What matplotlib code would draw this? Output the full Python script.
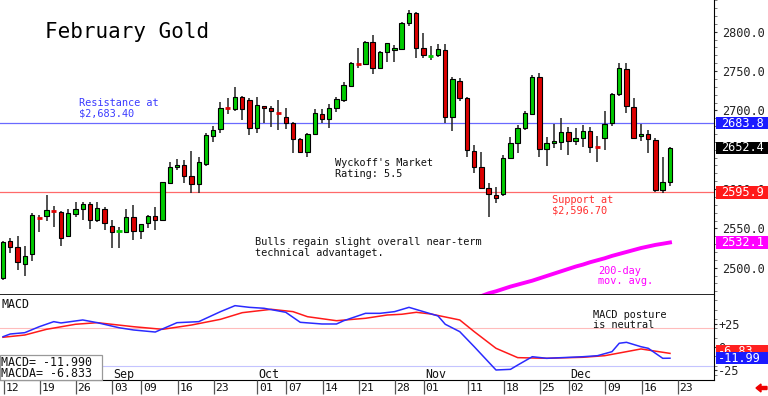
import numpy as np
import pandas as pd
import matplotlib
matplotlib.use("Agg")
import matplotlib.pyplot as plt
from matplotlib.patches import Rectangle, FancyArrow
from matplotlib.transforms import blended_transform_factory
from matplotlib.ticker import FormatStrFormatter, MultipleLocator

plt.rcParams['font.family'] = ['DejaVu Sans Mono']

W, H = 768, 396

# trading days, Aug 12 - Dec 20 2024
holidays = ["2024-09-02", "2024-11-28"]
days = pd.bdate_range("2024-08-12", "2024-12-20")
days = days[~days.isin(pd.to_datetime(holidays))]

opens = [2486.5, 2534, 2526, 2505, 2517.4, 2564, 2566, 2573, 2571, 2540.7,
         2568.6, 2574.2, 2581.3, 2560.6, 2574.6, 2553, 2546, 2545, 2564, 2546.6,
         2556.4, 2565.3, 2560.6, 2608, 2628.4, 2630.5, 2617, 2606, 2631.4, 2667.4,
         2675.9, 2704, 2702.1, 2716.6, 2713.2, 2677.2, 2705.5, 2702.6, 2697.5, 2692,
         2684.3, 2663.2, 2647.4, 2669.6, 2695, 2688.6, 2702.6, 2713.2, 2731, 2760.5,
         2758.9, 2787.3, 2753.5, 2773.8, 2776.4, 2777.6, 2811.4, 2824.2, 2778.9, 2768.5,
         2770.4, 2776.7, 2691.9, 2737.3, 2716.1, 2648.7, 2627.6, 2600.9, 2592.4, 2593.3,
         2639, 2658.9, 2677.2, 2695.4, 2742.8, 2650.5, 2658.1, 2660.2, 2672.9, 2661.4,
         2665.2, 2673.8, 2654.5, 2664.5, 2683.5, 2720.8, 2752.6, 2703.9, 2667.4, 2669.6,
         2662.3, 2598.8, 2609.5]
highs = [2534, 2537.4, 2540, 2527.6, 2569, 2567, 2592, 2578.8, 2572, 2575,
         2583.6, 2583.5, 2583.5, 2583.5, 2577.5, 2560.6, 2552, 2574.2, 2579.7, 2556,
         2567, 2577.5, 2609, 2634.7, 2637.8, 2636.9, 2648.3, 2640.3, 2671.6, 2680.5,
         2710.2, 2715.3, 2729.3, 2718.3, 2715.3, 2716.6, 2706, 2705.5, 2713.2, 2702.6,
         2685.6, 2664.5, 2670.8, 2701.3, 2701.3, 2708, 2717.4, 2736.4, 2761.9, 2778.9,
         2788.6, 2795.8, 2775.8, 2786, 2783.1, 2812.2, 2827.6, 2825, 2798, 2781.8,
         2784.4, 2784.4, 2742, 2740.8, 2717.4, 2656, 2647.4, 2608, 2603, 2643.7,
         2666.5, 2681.4, 2699.6, 2745, 2747.9, 2666.5, 2682.7, 2689.9, 2678.5, 2677.2,
         2681.4, 2679.2, 2667.4, 2699.6, 2722.5, 2759.8, 2760.6, 2715.3, 2682.7, 2675,
         2664.5, 2640.3, 2653.8]
lows = [2485, 2519, 2497, 2490, 2509, 2545.7, 2559, 2551.3, 2528, 2540,
        2564, 2560.6, 2548.8, 2558.5, 2547.9, 2524.6, 2524.6, 2543.7, 2535, 2536,
        2550, 2547.9, 2560, 2607.3, 2624, 2608, 2594.6, 2595.3, 2629.7, 2660.2,
        2670.8, 2695, 2699.6, 2687.7, 2668.7, 2670.8, 2683.5, 2679.2, 2675, 2676,
        2645.4, 2646.2, 2641, 2668.7, 2683.5, 2677.2, 2698.3, 2711, 2730.1, 2753.5,
        2757.7, 2746.2, 2752.6, 2761.9, 2761.9, 2777, 2807.2, 2766.2, 2766.2, 2764,
        2768.2, 2683.5, 2674, 2711.9, 2641, 2620, 2600, 2564, 2581.8, 2591,
        2637.8, 2645.4, 2675, 2694, 2640.3, 2629.3, 2651.8, 2649.6, 2643.3, 2656,
        2653.8, 2645.4, 2634.7, 2649.6, 2680, 2718.3, 2696.2, 2664.5, 2661.4, 2645.4,
        2596.6, 2595.3, 2603.8]
closes = [2533, 2526, 2507, 2515, 2567, 2563, 2573.3, 2572, 2537.3, 2569,
          2575, 2581, 2560.6, 2575.5, 2557.2, 2545.7, 2547, 2564.8, 2547, 2555.5,
          2566, 2560.6, 2608.5, 2628, 2631, 2616.5, 2606, 2634, 2668.7, 2675,
          2703.4, 2703, 2716.6, 2701.7, 2678, 2706.4, 2702.6, 2699.6, 2696.5, 2684.3,
          2663.2, 2647.4, 2669.6, 2697, 2688.6, 2702.6, 2714, 2731.9, 2760.6, 2759.5,
          2787.3, 2753.5, 2773.8, 2785.3, 2779.3, 2811.4, 2823.4, 2778.9, 2770.4, 2769.5,
          2778, 2691.2, 2739.9, 2716.1, 2649.6, 2627.6, 2600.9, 2593.3, 2589, 2639,
          2658.1, 2677.2, 2696.3, 2742.8, 2650.5, 2658.1, 2661, 2672.9, 2661.4, 2665.2,
          2673.8, 2653.8, 2653.5, 2682.7, 2720.8, 2753.5, 2705.5, 2665.2, 2669.6, 2663.2,
          2598.8, 2608.5, 2652.4]

# 200-day moving average, visible from bar 66 on
ma_start = 66
ma200 = [2464, 2467.5, 2470, 2473, 2476, 2478.5, 2481, 2483.5, 2486.5, 2489.5,
         2492.5, 2495.5, 2498.5, 2501.5, 2504, 2507, 2509.5, 2512, 2515, 2517.5,
         2520, 2522.5, 2525, 2527, 2529, 2530.5, 2532.1]

# MACD (blue) and its average (red), read at these bars
macd_bar = [0, 1, 3, 5, 7, 8, 11, 13, 16, 18, 21, 24, 27, 30, 32, 34, 36, 39, 41, 44,
            46, 47, 50, 52, 54, 56, 58, 60, 61, 63, 65, 68, 70, 71, 73, 75, 80, 82, 84, 85,
            86, 88, 89, 91, 92]
macd_val = [11.0, 13.9, 15.3, 21.7, 27.1, 25.7, 28.9, 26, 20.6, 18.2, 16, 26, 27.1, 37.8,
            44.2, 42.4, 41.4, 37.1, 26.4, 24.6, 24.6, 28.1, 36, 36, 37.8, 42.4, 37.8, 33.2,
            24.3, 16.4, 0.3, -24.6, -23.9, -19.3, -10.4, -12.1, -10.4, -9.3, -5, 4,
            5, 0.3, -1.4, -12.1, -11.99]
sig_bar = [0, 3, 6, 10, 13, 18, 22, 26, 30, 33, 37, 40, 42, 46, 50, 53, 55, 57, 59, 63,
           65, 68, 71, 75, 80, 83, 86, 88, 92]
sig_val = [10.4, 12.8, 18.9, 24.3, 26, 21.7, 18.9, 23.5, 29.6, 36.7, 40.3, 37.8, 32.4,
           28.1, 30.7, 34.2, 35, 37.1, 35.3, 28.9, 16.4, -1.4, -11.4, -12.1, -11, -9.3,
           -5, -2.1, -6.833]

tick_days = ["2024-08-12", "2024-08-19", "2024-08-26", "2024-09-03", "2024-09-09",
             "2024-09-16", "2024-09-23", "2024-10-01", "2024-10-07", "2024-10-14",
             "2024-10-21", "2024-10-28", "2024-11-01", "2024-11-11", "2024-11-18",
             "2024-11-25", "2024-12-02", "2024-12-09", "2024-12-16", "2024-12-23"]
tick_labels = ["12", "19", "26", "03", "09", "16", "23", "01", "07", "14",
               "21", "28", "01", "11", "18", "25", "02", "09", "16", "23"]
month_days = ["2024-09-03", "2024-10-01", "2024-11-01", "2024-12-02"]
month_labels = ["Sep", "Oct", "Nov", "Dec"]

resistance = 2683.8
support = 2595.9


def fx(px):
    return px / W


def fy(py):
    return 1 - py / H


fig = plt.figure(figsize=(W / 100, H / 100), dpi=100)
ax = fig.add_axes([0, fy(295), fx(714), fy(0) - fy(295)])
axm = fig.add_axes([0, fy(380), fx(714), fy(295) - fy(380)])
axd = fig.add_axes([0, 0, fx(714), fy(380)])

xlim = (-0.414, 98.07)
for a in (ax, axm, axd):
    a.set_xlim(*xlim)
    a.set_xticks([])

# ---------------------------
# price panel
# ---------------------------
ax.set_ylim(2465.3, 2840.3)
o, h, l, c = map(np.array, (opens, highs, lows, closes))
x = np.arange(len(days))
cols = np.where(c > o, '#00cc00', '#dd0000')
ax.vlines(x, l, h, color='#222222', lw=1.1, zorder=2)
body = np.abs(c - o) > 1.5
ax.bar(x[body], np.abs(c - o)[body], bottom=np.minimum(o, c)[body], width=0.62,
       color=cols[body], edgecolor='black', linewidth=0.8, zorder=3)
doji = ~body
ax.hlines(c[doji], x[doji] - 0.35, x[doji] + 0.35, colors=cols[doji], lw=2, zorder=3)

ax.axhline(resistance, color='#6a6aff', lw=0.9, zorder=1)
ax.axhline(support, color='#ff6a6a', lw=0.9, zorder=1)
ax.plot(x[ma_start:], ma200, color='#ff00ff', lw=2.8, zorder=2)

for s in ('left', 'top'):
    ax.spines[s].set_visible(False)
ax.spines['bottom'].set_linewidth(1.2)
ax.yaxis.tick_right()
# 2650.0 sits fully under the last-price box, so it is left out
ax.set_yticks([2500, 2550, 2600, 2700, 2750, 2800])
ax.yaxis.set_major_formatter(FormatStrFormatter('%.1f'))
ax.yaxis.set_minor_locator(MultipleLocator(10))
ax.tick_params(axis='y', which='major', labelsize=8.6, length=2, pad=4, colors='#333333',
               labelcolor='#222222')
ax.tick_params(axis='y', which='minor', length=2, colors='#666666')

bt = blended_transform_factory(ax.transAxes, ax.transData)
boxes = [(resistance, '2683.8', '#1a1aff'), (2652.4, '2652.4', '#000000'),
         (support, '2595.9', '#ff1a1a'), (2532.1, '2532.1', '#ff00ff')]
for val, txt, col in boxes:
    ax.add_patch(Rectangle((1 + 2 / 714, val - 8), 60 / 714, 16, transform=bt,
                           facecolor=col, edgecolor='none', clip_on=False, zorder=5))
    ax.text(1 + 7 / 714, val, txt, transform=bt, color='white', fontsize=8.6,
            va='center', ha='left', clip_on=False, zorder=6)

# ---------------------------
# MACD panel
# ---------------------------
axm.set_ylim(-35.3, 55.6)
axm.axhline(20, color='#ffbcbc', lw=0.8, zorder=1)
axm.axhline(-20, color='#c4c4ff', lw=0.8, zorder=1)
axm.plot(sig_bar, sig_val, color='#ff1a1a', lw=1.1, zorder=3)
axm.plot(macd_bar, macd_val, color='#2a2aff', lw=1.1, zorder=3)
for s in ('left', 'top'):
    axm.spines[s].set_visible(False)
axm.yaxis.tick_right()
axm.set_yticks([25, 0, -25])
axm.set_yticklabels(['+25', '0', '-25'])
axm.yaxis.set_minor_locator(MultipleLocator(10))
axm.tick_params(axis='y', which='major', labelsize=8.6, length=2, pad=1, colors='#333333',
                labelcolor='#222222')
axm.tick_params(axis='y', which='minor', length=2, colors='#666666')

bm = blended_transform_factory(axm.transAxes, axm.transData)
for val, txt, col, z in [(-5.0, '-6.83', '#ff2020', 5), (-11.99, '-11.99', '#1a1aff', 6)]:
    axm.add_patch(Rectangle((1 + 2 / 714, val - 6.6), 60 / 714, 13.2, transform=bm,
                            facecolor=col, edgecolor='none', clip_on=False, zorder=z))
    axm.text(1 + 4 / 714, val, txt, transform=bm, color='white', fontsize=8.6,
             va='center', ha='left', clip_on=False, zorder=z)

for d, lab in zip(month_days, month_labels):
    axm.text(np.searchsorted(days, pd.Timestamp(d)) + 0.2, -28.9, lab,
             fontsize=8.4, va='center', ha='left', color='#111111')

# ---------------------------
# date row
# ---------------------------
axd.set_ylim(0, 1)
axd.axis('off')
for d, lab in zip(tick_days, tick_labels):
    p = np.searchsorted(days, pd.Timestamp(d))
    axd.vlines(p + 0.1, 0.15, 1, color='#555555', lw=0.9)
    axd.text(p + 0.3, 0.5, lab, fontsize=8.2, va='center', ha='left', color='#111111')

# ---------------------------
# notes
# ---------------------------
fig.add_artist(Rectangle((0, fy(380)), fx(102), (380 - 355) / H, transform=fig.transFigure,
                         facecolor='white', edgecolor='#999999', lw=0.9, zorder=4))
notes = [
    (45, 37.5, "February Gold", 'black', 15),
    (79, 106.5, "Resistance at", '#3c3cff', 7.4),
    (79, 117, "$2,683.40", '#3c3cff', 7.4),
    (335, 166.5, "Wyckoff's Market", '#111111', 7.4),
    (335, 177, "Rating: 5.5", '#111111', 7.4),
    (255, 245, "Bulls regain slight overall near-term", '#111111', 7.4),
    (255, 255.5, "technical advantaget.", '#111111', 7.4),
    (552, 203, "Support at", '#ff3030', 7.4),
    (552, 213.5, "$2,596.70", '#ff3030', 7.4),
    (598.5, 273.5, "200-day", '#ff00ff', 7.4),
    (598.5, 284, "mov. avg.", '#ff00ff', 7.4),
    (593, 318, "MACD posture", '#111111', 7.4),
    (593, 328, "is neutral", '#111111', 7.4),
    (2, 307.5, "MACD", '#111111', 8.4),
    (1, 365.5, "MACD= -11.990", '#111111', 8.4),
    (1, 377, "MACDA= -6.833", '#111111', 8.4),
]
for px, py, txt, col, size in notes:
    fig.text(fx(px), fy(py), txt, color=col, fontsize=size, va='baseline', ha='left',
             zorder=7)

fig.add_artist(FancyArrow(fx(767), fy(388), -11 / W, 0, width=3 / H, head_width=8 / H,
                          head_length=5 / W, length_includes_head=True,
                          transform=fig.transFigure, color='#ee0000'))

fig.savefig("out.png", dpi=100)
